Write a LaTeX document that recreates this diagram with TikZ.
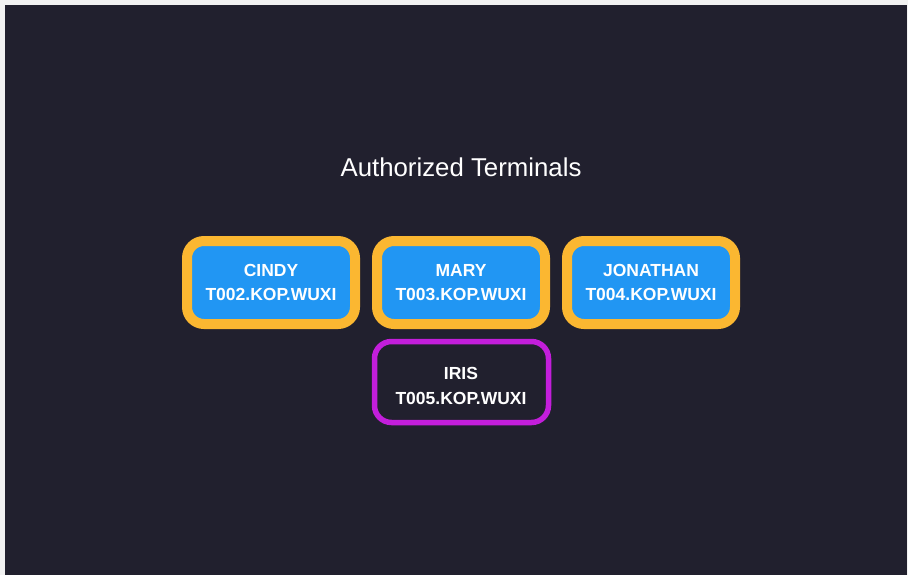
\documentclass[tikz,border=0pt]{standalone}
\usepackage{fontspec}
\setmainfont{Liberation Sans}
\definecolor{pagebg}{HTML}{F2F2F2}
\definecolor{darkbg}{HTML}{21202E}
\definecolor{termorange}{HTML}{FBB731}
\definecolor{termblue}{HTML}{2196F3}
\definecolor{termpurple}{HTML}{C31EDB}
\begin{document}
\begin{tikzpicture}[x=1pt,y=-1pt,
  term/.style={draw=termorange, fill=termblue, line width=10pt, rounded corners=17pt,
    minimum width=168pt, minimum height=83pt, align=center, text=white,
    font=\fontsize{17.5}{24.5}\selectfont\bfseries, inner sep=0pt},
  termsel/.style={draw=termpurple, fill=darkbg, line width=5.5pt, rounded corners=17pt,
    minimum width=174pt, minimum height=81pt, inner sep=0pt},
  termtext/.style={align=center, text=white,
    font=\fontsize{17.5}{24.5}\selectfont\bfseries, inner sep=0pt},
  title/.style={text=white, font=\fontsize{25.8}{30}\selectfont, inner sep=0pt}]
\useasboundingbox (0,0) rectangle (908,574);
\fill[darkbg] (-2,-2) rectangle (910,578);
\fill[pagebg] (-2,-2) rectangle (910,5);
\fill[pagebg] (-2,-2) rectangle (5,578);
\fill[pagebg] (906.5,-2) rectangle (910,578);
\node[title] (title) at (461,167) {Authorized Terminals};
\node[term] (cindy) at (271,282.5) {CINDY\\T002.KOP.WUXI};
\node[term] (mary) at (461,282.5) {MARY\\T003.KOP.WUXI};
\node[term] (jonathan) at (651,282.5) {JONATHAN\\T004.KOP.WUXI};
\node[termsel] (iris) at (461.5,382) {};
\node[termtext] (iristext) at (461,386) {IRIS\\T005.KOP.WUXI};
\end{tikzpicture}
\end{document}
